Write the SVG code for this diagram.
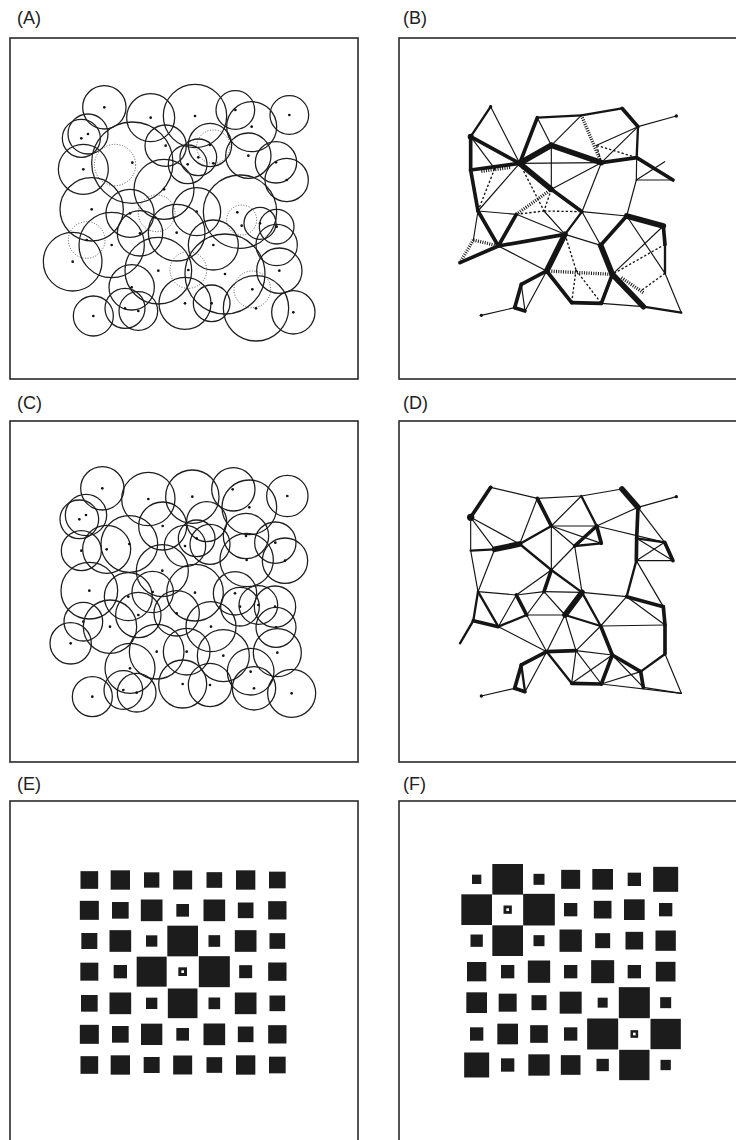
<svg xmlns="http://www.w3.org/2000/svg" width="736" height="1140" viewBox="0 0 736 1140">
<style>
.box{fill:none;stroke:#2a2a2a;stroke-width:1.6}
.lbl{font-family:"Liberation Sans",Arial,sans-serif;font-size:18px;fill:#222}
.c circle{fill:none;stroke:#1e1e1e;stroke-width:3.8}
.c circle.d{stroke:#555;stroke-width:3;stroke-dasharray:3 5}
.c circle.p{fill:#111;stroke:none}
.m line{stroke:#151515;stroke-linecap:round}
.e1{stroke-width:3.5}
.e2{stroke-width:7}
.e3{stroke-width:11}
.e4{stroke-width:17}
.h{stroke-width:10;stroke-dasharray:3 4;stroke-linecap:butt!important}
.dt{stroke-width:4;stroke-dasharray:7 6;stroke-linecap:butt!important}
.sq rect{fill:#1c1c1c}
.sq rect.w{fill:#fff}
.nd{fill:#111}
</style>

<text class="lbl" x="17" y="24">(A)</text>
<text class="lbl" x="403" y="24">(B)</text>
<text class="lbl" x="17" y="409">(C)</text>
<text class="lbl" x="403" y="409">(D)</text>
<text class="lbl" x="17" y="790">(E)</text>
<text class="lbl" x="403" y="790">(F)</text>

<rect class="box" x="10" y="38" width="348" height="341"/>
<rect class="box" x="399" y="38" width="345" height="341"/>
<rect class="box" x="10" y="421" width="348" height="341"/>
<rect class="box" x="399" y="421" width="345" height="341"/>
<rect class="box" x="10" y="801" width="348" height="345"/>
<rect class="box" x="399" y="801" width="345" height="345"/>

<!-- Panel A -->
<g id="panelA" class="c" transform="scale(0.33333)">
<circle cx="313" cy="322" r="65"/><circle class="p" cx="313" cy="322" r="4"/>
<circle cx="452" cy="353" r="72"/><circle class="p" cx="452" cy="353" r="4"/>
<circle cx="585" cy="348" r="95"/><circle class="p" cx="585" cy="348" r="4"/>
<circle cx="706" cy="330" r="58"/><circle class="p" cx="706" cy="330" r="4"/>
<circle cx="755" cy="380" r="75"/><circle class="p" cx="755" cy="380" r="4"/>
<circle cx="868" cy="345" r="58"/><circle class="p" cx="868" cy="345" r="4"/>
<circle cx="264" cy="402" r="60"/><circle class="p" cx="264" cy="402" r="4"/>
<circle cx="244" cy="415" r="57"/><circle class="p" cx="244" cy="415" r="4"/>
<circle cx="250" cy="508" r="75"/><circle class="p" cx="250" cy="508" r="4"/>
<circle cx="397" cy="488" r="122"/><circle class="p" cx="397" cy="488" r="4"/>
<circle class="d" cx="345" cy="495" r="62"/>
<circle cx="497" cy="437" r="62"/><circle class="p" cx="497" cy="437" r="4"/>
<circle cx="630" cy="435" r="65"/><circle class="p" cx="630" cy="435" r="4"/>
<circle class="d" cx="640" cy="440" r="50"/><circle class="p" cx="640" cy="490" r="4"/>
<circle cx="595" cy="472" r="55"/><circle class="p" cx="595" cy="472" r="4"/>
<circle cx="563" cy="493" r="58"/><circle class="p" cx="563" cy="493" r="4"/>
<circle cx="745" cy="467" r="68"/><circle class="p" cx="745" cy="467" r="4"/>
<circle cx="828" cy="487" r="62"/><circle class="p" cx="828" cy="487" r="4"/>
<circle cx="860" cy="540" r="65"/><circle class="p" cx="860" cy="540" r="4"/>
<circle cx="492" cy="568" r="90"/><circle class="p" cx="492" cy="568" r="4"/>
<circle cx="275" cy="628" r="95"/><circle class="p" cx="275" cy="628" r="4"/>
<circle cx="390" cy="640" r="72"/><circle class="p" cx="390" cy="640" r="4"/>
<circle class="d" cx="470" cy="640" r="55"/>
<circle cx="590" cy="635" r="72"/><circle class="p" cx="590" cy="635" r="4"/>
<circle cx="720" cy="635" r="110"/><circle class="p" cx="712" cy="637" r="4"/>
<circle class="d" cx="725" cy="660" r="45"/><circle class="p" cx="725" cy="677" r="4"/>
<circle cx="780" cy="670" r="48"/><circle class="p" cx="780" cy="670" r="4"/>
<circle cx="830" cy="680" r="52"/><circle class="p" cx="830" cy="680" r="4"/>
<circle cx="530" cy="698" r="85"/><circle class="p" cx="530" cy="698" r="4"/>
<circle cx="420" cy="700" r="68"/><circle class="p" cx="420" cy="700" r="4"/>
<circle cx="335" cy="735" r="98"/><circle class="p" cx="335" cy="735" r="4"/>
<circle class="d" cx="260" cy="720" r="55"/><circle class="p" cx="260" cy="720" r="4"/>
<circle cx="218" cy="785" r="88"/><circle class="p" cx="218" cy="785" r="4"/>
<circle cx="640" cy="735" r="75"/><circle class="p" cx="640" cy="735" r="4"/>
<circle cx="830" cy="735" r="62"/><circle class="p" cx="838" cy="812" r="4"/>
<circle cx="475" cy="812" r="100"/><circle class="p" cx="475" cy="812" r="4"/>
<circle class="d" cx="565" cy="810" r="55"/><circle class="p" cx="565" cy="810" r="4"/>
<circle cx="675" cy="822" r="120"/><circle class="p" cx="675" cy="822" r="4"/>
<circle cx="838" cy="812" r="68"/>
<circle cx="395" cy="862" r="68"/><circle class="p" cx="395" cy="862" r="4"/>
<circle cx="555" cy="910" r="78"/><circle class="p" cx="555" cy="910" r="4"/>
<circle cx="635" cy="910" r="55"/><circle class="p" cx="635" cy="910" r="4"/>
<circle class="d" cx="757" cy="868" r="55"/><circle class="p" cx="757" cy="868" r="4"/>
<circle cx="768" cy="925" r="98"/><circle class="p" cx="768" cy="925" r="4"/>
<circle cx="880" cy="937" r="65"/><circle class="p" cx="880" cy="937" r="4"/>
<circle cx="280" cy="948" r="60"/><circle class="p" cx="280" cy="948" r="4"/>
<circle cx="375" cy="925" r="60"/><circle class="p" cx="375" cy="925" r="4"/>
<circle cx="415" cy="933" r="58"/><circle class="p" cx="415" cy="933" r="4"/>
</g>

<!-- Panel C -->
<g id="panelC" class="c" transform="translate(0,390) scale(0.33333)">
<circle cx="307" cy="295" r="65"/><circle class="p" cx="307" cy="295" r="4"/>
<circle cx="445" cy="327" r="80"/><circle class="p" cx="445" cy="327" r="4"/>
<circle cx="577" cy="320" r="80"/><circle class="p" cx="577" cy="320" r="4"/>
<circle cx="700" cy="298" r="65"/><circle class="p" cx="698" cy="298" r="4"/>
<circle cx="748" cy="352" r="82"/><circle class="p" cx="748" cy="352" r="4"/>
<circle cx="862" cy="318" r="62"/><circle class="p" cx="862" cy="318" r="4"/>
<circle cx="258" cy="375" r="62"/><circle class="p" cx="258" cy="375" r="4"/>
<circle cx="238" cy="388" r="58"/><circle class="p" cx="238" cy="388" r="4"/>
<circle cx="244" cy="482" r="60"/><circle class="p" cx="244" cy="482" r="4"/>
<circle cx="320" cy="478" r="72"/><circle class="p" cx="320" cy="478" r="4"/>
<circle cx="388" cy="462" r="85"/><circle class="p" cx="388" cy="462" r="4"/>
<circle cx="488" cy="408" r="72"/><circle class="p" cx="488" cy="408" r="4"/>
<circle cx="620" cy="395" r="60"/>
<circle cx="555" cy="468" r="62"/><circle class="p" cx="555" cy="468" r="4"/>
<circle cx="590" cy="445" r="55"/><circle class="p" cx="590" cy="445" r="4"/>
<circle cx="630" cy="463" r="60"/>
<circle cx="738" cy="438" r="68"/><circle class="p" cx="738" cy="438" r="4"/>
<circle cx="826" cy="458" r="62"/><circle class="p" cx="826" cy="458" r="4"/>
<circle cx="855" cy="512" r="68"/><circle class="p" cx="855" cy="512" r="4"/>
<circle cx="740" cy="510" r="80"/><circle class="p" cx="740" cy="510" r="4"/>
<circle cx="487" cy="542" r="78"/><circle class="p" cx="487" cy="542" r="4"/>
<circle cx="585" cy="608" r="85"/><circle class="p" cx="585" cy="608" r="4"/>
<circle cx="268" cy="602" r="85"/><circle class="p" cx="268" cy="602" r="4"/>
<circle cx="385" cy="620" r="72"/><circle class="p" cx="385" cy="620" r="4"/>
<circle cx="458" cy="606" r="62"/><circle class="p" cx="458" cy="606" r="4"/>
<circle cx="415" cy="675" r="68"/><circle class="p" cx="415" cy="675" r="4"/>
<circle cx="530" cy="670" r="68"/><circle class="p" cx="530" cy="670" r="4"/>
<circle cx="705" cy="610" r="65"/><circle class="p" cx="705" cy="610" r="4"/>
<circle cx="720" cy="650" r="58"/><circle class="p" cx="720" cy="650" r="4"/>
<circle cx="775" cy="645" r="58"/><circle class="p" cx="775" cy="645" r="4"/>
<circle cx="825" cy="650" r="62"/><circle class="p" cx="825" cy="650" r="4"/>
<circle cx="828" cy="712" r="60"/><circle class="p" cx="828" cy="712" r="4"/>
<circle cx="250" cy="695" r="58"/><circle class="p" cx="250" cy="695" r="4"/>
<circle cx="330" cy="710" r="80"/><circle class="p" cx="330" cy="710" r="4"/>
<circle cx="633" cy="710" r="75"/><circle class="p" cx="633" cy="710" r="4"/>
<circle cx="212" cy="760" r="62"/><circle class="p" cx="212" cy="760" r="4"/>
<circle cx="470" cy="785" r="82"/><circle class="p" cx="470" cy="785" r="4"/>
<circle cx="560" cy="785" r="70"/><circle class="p" cx="560" cy="785" r="4"/>
<circle cx="670" cy="797" r="78"/><circle class="p" cx="670" cy="797" r="4"/>
<circle cx="832" cy="788" r="72"/><circle class="p" cx="832" cy="788" r="4"/>
<circle cx="390" cy="835" r="75"/><circle class="p" cx="390" cy="835" r="4"/>
<circle cx="548" cy="882" r="72"/><circle class="p" cx="548" cy="882" r="4"/>
<circle cx="630" cy="885" r="65"/><circle class="p" cx="630" cy="885" r="4"/>
<circle cx="752" cy="845" r="70"/><circle class="p" cx="752" cy="845" r="4"/>
<circle cx="762" cy="895" r="65"/><circle class="p" cx="762" cy="895" r="4"/>
<circle cx="875" cy="910" r="72"/><circle class="p" cx="875" cy="910" r="4"/>
<circle cx="277" cy="920" r="60"/><circle class="p" cx="277" cy="920" r="4"/>
<circle cx="370" cy="900" r="58"/><circle class="p" cx="370" cy="900" r="4"/>
<circle cx="410" cy="908" r="58"/><circle class="p" cx="410" cy="908" r="4"/>
</g>

<!-- Panel B -->
<g id="panelB" class="m" transform="translate(368,9.33) scale(0.33333)">
<line class="e2" x1="368" y1="292" x2="308" y2="382"/>
<line class="e1" x1="368" y1="292" x2="455" y2="462"/>
<line class="e3" x1="308" y1="382" x2="308" y2="482"/>
<line class="e3" x1="308" y1="382" x2="455" y2="462"/>
<line class="e1" x1="308" y1="382" x2="380" y2="478"/>
<line class="e3" x1="308" y1="482" x2="455" y2="462"/>
<line class="h" x1="340" y1="486" x2="430" y2="474"/>
<line class="e3" x1="308" y1="482" x2="330" y2="605"/>
<line class="dt" x1="380" y1="478" x2="330" y2="605"/>
<line class="e3" x1="455" y1="462" x2="508" y2="325"/>
<line class="e2" x1="508" y1="325" x2="640" y2="318"/>
<line class="e2" x1="640" y1="318" x2="762" y2="297"/>
<line class="e3" x1="762" y1="297" x2="810" y2="352"/>
<line class="e1" x1="810" y1="352" x2="925" y2="320"/>
<line class="e1" x1="508" y1="325" x2="550" y2="408"/>
<line class="e1" x1="640" y1="318" x2="550" y2="408"/>
<line class="e4" x1="455" y1="462" x2="550" y2="408"/>
<line class="e4" x1="550" y1="408" x2="700" y2="460"/>
<line class="e1" x1="455" y1="462" x2="700" y2="460"/>
<line class="h" x1="640" y1="318" x2="700" y2="460"/>
<line class="e3" x1="700" y1="460" x2="806" y2="445"/>
<line class="e3" x1="806" y1="445" x2="915" y2="512"/>
<line class="e2" x1="810" y1="352" x2="806" y2="445"/>
<line class="e1" x1="810" y1="352" x2="700" y2="460"/>
<line class="e1" x1="810" y1="352" x2="686" y2="408"/>
<line class="dt" x1="686" y1="408" x2="700" y2="460"/>
<line class="dt" x1="686" y1="408" x2="806" y2="445"/>
<line class="e1" x1="806" y1="445" x2="805" y2="512"/>
<line class="e1" x1="890" y1="457" x2="805" y2="512"/>
<line class="e1" x1="915" y1="512" x2="805" y2="512"/>
<line class="e1" x1="805" y1="512" x2="776" y2="620"/>
<line class="e4" x1="455" y1="462" x2="550" y2="540"/>
<line class="e1" x1="550" y1="408" x2="550" y2="540"/>
<line class="e1" x1="700" y1="460" x2="550" y2="540"/>
<line class="e1" x1="700" y1="460" x2="642" y2="607"/>
<line class="e3" x1="550" y1="540" x2="642" y2="607"/>
<line class="h" x1="550" y1="540" x2="445" y2="615"/>
<line class="dt" x1="550" y1="540" x2="528" y2="605"/>
<line class="dt" x1="455" y1="462" x2="528" y2="605"/>
<line class="e1" x1="455" y1="462" x2="330" y2="605"/>
<line class="e1" x1="330" y1="605" x2="445" y2="615"/>
<line class="dt" x1="445" y1="615" x2="528" y2="605"/>
<line class="dt" x1="528" y1="605" x2="642" y2="607"/>
<line class="e3" x1="445" y1="615" x2="391" y2="710"/>
<line class="e3" x1="330" y1="605" x2="391" y2="710"/>
<line class="h" x1="316" y1="692" x2="276" y2="760"/>
<line class="e1" x1="330" y1="605" x2="316" y2="692"/>
<line class="h" x1="316" y1="692" x2="391" y2="710"/>
<line class="e3" x1="391" y1="710" x2="276" y2="760"/>
<line class="e3" x1="391" y1="710" x2="591" y2="675"/>
<line class="e1" x1="445" y1="615" x2="591" y2="675"/>
<line class="e1" x1="528" y1="605" x2="591" y2="675"/>
<line class="e2" x1="642" y1="607" x2="591" y2="675"/>
<line class="e1" x1="642" y1="607" x2="776" y2="620"/>
<line class="e4" x1="776" y1="620" x2="886" y2="650"/>
<line class="e3" x1="886" y1="650" x2="891" y2="705"/>
<line class="e2" x1="891" y1="705" x2="891" y2="792"/>
<line class="e3" x1="776" y1="620" x2="698" y2="708"/>
<line class="e1" x1="591" y1="675" x2="698" y2="708"/>
<line class="e1" x1="642" y1="607" x2="698" y2="708"/>
<line class="e4" x1="698" y1="708" x2="733" y2="795"/>
<line class="e4" x1="591" y1="675" x2="536" y2="785"/>
<line class="e1" x1="391" y1="710" x2="536" y2="785"/>
<line class="h" x1="536" y1="785" x2="733" y2="795"/>
<line class="dt" x1="591" y1="675" x2="624" y2="782"/>
<line class="dt" x1="624" y1="782" x2="611" y2="880"/>
<line class="e3" x1="536" y1="785" x2="611" y2="880"/>
<line class="dt" x1="624" y1="782" x2="700" y2="882"/>
<line class="e3" x1="611" y1="880" x2="700" y2="882"/>
<line class="e3" x1="733" y1="795" x2="700" y2="882"/>
<line class="e4" x1="733" y1="795" x2="826" y2="892"/>
<line class="h" x1="760" y1="805" x2="826" y2="850"/>
<line class="dt" x1="891" y1="792" x2="818" y2="845"/>
<line class="e1" x1="776" y1="620" x2="891" y2="792"/>
<line class="e1" x1="886" y1="650" x2="733" y2="795"/>
<line class="dt" x1="891" y1="705" x2="733" y2="795"/>
<line class="e1" x1="891" y1="792" x2="940" y2="910"/>
<line class="e2" x1="826" y1="892" x2="940" y2="910"/>
<line class="e1" x1="700" y1="882" x2="826" y2="892"/>
<line class="e3" x1="536" y1="785" x2="460" y2="825"/>
<line class="e3" x1="460" y1="825" x2="440" y2="895"/>
<line class="e3" x1="440" y1="895" x2="471" y2="905"/>
<line class="e1" x1="460" y1="825" x2="471" y2="905"/>
<line class="e1" x1="440" y1="895" x2="340" y2="918"/>
<line class="e1" x1="536" y1="785" x2="471" y2="905"/>
<circle class="nd" cx="368" cy="292" r="5"/>
<circle class="nd" cx="925" cy="320" r="5"/>
<circle class="nd" cx="340" cy="918" r="5"/>
<circle class="nd" cx="308" cy="382" r="9"/>
</g>

<!-- Panel D -->
<g id="panelD" class="m" transform="translate(368,390) scale(0.33333)">
<line class="e3" x1="368" y1="292" x2="308" y2="382"/>
<line class="e1" x1="368" y1="292" x2="508" y2="325"/>
<line class="e1" x1="508" y1="325" x2="640" y2="318"/>
<line class="e1" x1="640" y1="318" x2="762" y2="297"/>
<line class="e4" x1="762" y1="297" x2="810" y2="352"/>
<line class="e1" x1="810" y1="352" x2="925" y2="320"/>
<line class="e1" x1="308" y1="382" x2="308" y2="482"/>
<line class="e1" x1="308" y1="382" x2="380" y2="478"/>
<line class="e1" x1="308" y1="382" x2="455" y2="462"/>
<line class="e2" x1="308" y1="482" x2="380" y2="478"/>
<line class="e4" x1="380" y1="478" x2="455" y2="462"/>
<line class="e1" x1="308" y1="482" x2="330" y2="605"/>
<line class="e1" x1="380" y1="478" x2="330" y2="605"/>
<line class="e1" x1="508" y1="325" x2="455" y2="462"/>
<line class="e3" x1="508" y1="325" x2="550" y2="408"/>
<line class="e2" x1="455" y1="462" x2="550" y2="408"/>
<line class="e1" x1="640" y1="318" x2="550" y2="408"/>
<line class="e2" x1="640" y1="318" x2="686" y2="408"/>
<line class="e1" x1="550" y1="408" x2="686" y2="408"/>
<line class="e1" x1="550" y1="408" x2="620" y2="468"/>
<line class="e1" x1="550" y1="408" x2="700" y2="460"/>
<line class="e3" x1="686" y1="408" x2="700" y2="460"/>
<line class="e3" x1="620" y1="468" x2="686" y2="408"/>
<line class="e2" x1="620" y1="468" x2="700" y2="460"/>
<line class="e1" x1="810" y1="352" x2="686" y2="408"/>
<line class="e1" x1="686" y1="408" x2="890" y2="457"/>
<line class="e3" x1="810" y1="352" x2="806" y2="445"/>
<line class="e3" x1="806" y1="445" x2="805" y2="512"/>
<line class="e1" x1="810" y1="352" x2="890" y2="457"/>
<line class="e2" x1="806" y1="445" x2="890" y2="457"/>
<line class="e3" x1="890" y1="457" x2="915" y2="512"/>
<line class="e1" x1="806" y1="445" x2="915" y2="512"/>
<line class="e1" x1="805" y1="512" x2="890" y2="457"/>
<line class="e1" x1="805" y1="512" x2="915" y2="512"/>
<line class="e1" x1="620" y1="468" x2="550" y2="540"/>
<line class="e2" x1="455" y1="462" x2="550" y2="540"/>
<line class="e1" x1="550" y1="408" x2="550" y2="540"/>
<line class="e3" x1="550" y1="540" x2="528" y2="605"/>
<line class="e1" x1="550" y1="540" x2="445" y2="615"/>
<line class="e2" x1="550" y1="540" x2="642" y2="607"/>
<line class="e1" x1="620" y1="468" x2="642" y2="607"/>
<line class="e2" x1="805" y1="512" x2="776" y2="620"/>
<line class="e1" x1="805" y1="512" x2="886" y2="650"/>
<line class="e1" x1="330" y1="605" x2="445" y2="615"/>
<line class="e1" x1="445" y1="615" x2="528" y2="605"/>
<line class="e1" x1="528" y1="605" x2="642" y2="607"/>
<line class="e1" x1="642" y1="607" x2="776" y2="620"/>
<line class="e3" x1="776" y1="620" x2="886" y2="650"/>
<line class="e3" x1="886" y1="650" x2="891" y2="705"/>
<line class="e3" x1="891" y1="705" x2="891" y2="792"/>
<line class="e1" x1="776" y1="620" x2="891" y2="705"/>
<line class="e2" x1="330" y1="605" x2="316" y2="692"/>
<line class="e2" x1="330" y1="605" x2="391" y2="710"/>
<line class="e1" x1="445" y1="615" x2="391" y2="710"/>
<line class="e3" x1="445" y1="615" x2="476" y2="675"/>
<line class="e3" x1="316" y1="692" x2="391" y2="710"/>
<line class="e2" x1="316" y1="692" x2="276" y2="760"/>
<line class="e2" x1="391" y1="710" x2="476" y2="675"/>
<line class="e1" x1="528" y1="605" x2="476" y2="675"/>
<line class="e1" x1="528" y1="605" x2="591" y2="675"/>
<line class="e4" x1="642" y1="607" x2="591" y2="675"/>
<line class="e1" x1="476" y1="675" x2="591" y2="675"/>
<line class="e2" x1="642" y1="607" x2="698" y2="708"/>
<line class="e2" x1="591" y1="675" x2="698" y2="708"/>
<line class="e1" x1="776" y1="620" x2="698" y2="708"/>
<line class="e1" x1="698" y1="708" x2="891" y2="705"/>
<line class="e1" x1="391" y1="710" x2="536" y2="785"/>
<line class="e1" x1="476" y1="675" x2="536" y2="785"/>
<line class="e1" x1="591" y1="675" x2="536" y2="785"/>
<line class="e1" x1="591" y1="675" x2="624" y2="782"/>
<line class="e3" x1="536" y1="785" x2="624" y2="782"/>
<line class="e3" x1="698" y1="708" x2="733" y2="795"/>
<line class="e1" x1="624" y1="782" x2="733" y2="795"/>
<line class="e1" x1="698" y1="708" x2="624" y2="782"/>
<line class="e3" x1="536" y1="785" x2="460" y2="825"/>
<line class="e3" x1="460" y1="825" x2="440" y2="895"/>
<line class="e3" x1="440" y1="895" x2="471" y2="905"/>
<line class="e2" x1="460" y1="825" x2="471" y2="905"/>
<line class="e1" x1="536" y1="785" x2="471" y2="905"/>
<line class="e1" x1="440" y1="895" x2="340" y2="918"/>
<line class="e2" x1="536" y1="785" x2="611" y2="880"/>
<line class="e1" x1="624" y1="782" x2="611" y2="880"/>
<line class="e1" x1="624" y1="782" x2="700" y2="882"/>
<line class="e3" x1="611" y1="880" x2="700" y2="882"/>
<line class="e3" x1="733" y1="795" x2="700" y2="882"/>
<line class="e3" x1="733" y1="795" x2="818" y2="845"/>
<line class="e3" x1="818" y1="845" x2="826" y2="892"/>
<line class="e2" x1="891" y1="792" x2="818" y2="845"/>
<line class="e1" x1="891" y1="792" x2="940" y2="910"/>
<line class="e1" x1="700" y1="882" x2="940" y2="910"/>
<line class="e1" x1="826" y1="892" x2="940" y2="910"/>
<line class="e1" x1="733" y1="795" x2="826" y2="892"/>
<line class="e1" x1="700" y1="882" x2="818" y2="845"/>
<line class="e1" x1="611" y1="880" x2="733" y2="795"/>
<circle class="nd" cx="368" cy="292" r="5"/>
<circle class="nd" cx="925" cy="320" r="5"/>
<circle class="nd" cx="340" cy="918" r="5"/>
<circle class="nd" cx="308" cy="382" r="11"/>
</g>

<!-- Panel E -->
<g id="panelE" class="sq" transform="translate(0,770) scale(0.33333)">
<rect x="241.5" y="303.5" width="53" height="53"/><rect x="332" y="301" width="58" height="58"/><rect x="432" y="307" width="46" height="46"/><rect x="519.5" y="301.5" width="57" height="57"/><rect x="619.5" y="306.5" width="47" height="47"/><rect x="708" y="301" width="58" height="58"/><rect x="807" y="305" width="50" height="50"/>
<rect x="239.5" y="392.5" width="57" height="57"/><rect x="336" y="396" width="50" height="50"/><rect x="422.5" y="388.5" width="65" height="65"/><rect x="529" y="402" width="38" height="38"/><rect x="610.5" y="388.5" width="65" height="65"/><rect x="713.5" y="397.5" width="47" height="47"/><rect x="804.5" y="393.5" width="55" height="55"/>
<rect x="244" y="489" width="48" height="48"/><rect x="328.5" y="480.5" width="65" height="65"/><rect x="438" y="496" width="34" height="34"/><rect x="502" y="467" width="92" height="92"/><rect x="625.5" y="495.5" width="35" height="35"/><rect x="704.5" y="480.5" width="65" height="65"/><rect x="808.5" y="489.5" width="47" height="47"/>
<rect x="241" y="578" width="54" height="54"/><rect x="341" y="585" width="40" height="40"/><rect x="410" y="560" width="90" height="90"/><rect x="535" y="592" width="26" height="26"/><rect class="w" x="544" y="601" width="8" height="8"/><rect x="596.5" y="558.5" width="93" height="93"/><rect x="717.5" y="585.5" width="39" height="39"/><rect x="804.5" y="577.5" width="55" height="55"/>
<rect x="243" y="675" width="50" height="50"/><rect x="328.5" y="667.5" width="65" height="65"/><rect x="438" y="683" width="34" height="34"/><rect x="503.5" y="655.5" width="89" height="89"/><rect x="625.5" y="682.5" width="35" height="35"/><rect x="704.5" y="667.5" width="65" height="65"/><rect x="808.5" y="676.5" width="47" height="47"/>
<rect x="239.5" y="764.5" width="57" height="57"/><rect x="336" y="768" width="50" height="50"/><rect x="423" y="761" width="64" height="64"/><rect x="529" y="774" width="38" height="38"/><rect x="610.5" y="760.5" width="65" height="65"/><rect x="713.5" y="769.5" width="47" height="47"/><rect x="804.5" y="765.5" width="55" height="55"/>
<rect x="241.5" y="858.5" width="53" height="53"/><rect x="332" y="856" width="58" height="58"/><rect x="431" y="861" width="48" height="48"/><rect x="519.5" y="856.5" width="57" height="57"/><rect x="619.5" y="861.5" width="47" height="47"/><rect x="708" y="856" width="58" height="58"/><rect x="807" y="860" width="50" height="50"/>
</g>

<!-- Panel F -->
<g id="panelF" class="sq" transform="translate(368,770) scale(0.33333)">
<rect x="312" y="314" width="28" height="28"/><rect x="373" y="282" width="92" height="92"/><rect x="496.5" y="311.5" width="33" height="33"/><rect x="579.5" y="299.5" width="57" height="57"/><rect x="673" y="297" width="62" height="62"/><rect x="779" y="308" width="40" height="40"/><rect x="855.5" y="290.5" width="75" height="75"/>
<rect x="280" y="373" width="92" height="92"/><rect x="406.5" y="406.5" width="25" height="25"/><rect class="w" x="415" y="415" width="8" height="8"/><rect x="465.5" y="371.5" width="95" height="95"/><rect x="588" y="399" width="40" height="40"/><rect x="677.5" y="392.5" width="53" height="53"/><rect x="768" y="388" width="62" height="62"/><rect x="873" y="399" width="40" height="40"/>
<rect x="307.5" y="493.5" width="37" height="37"/><rect x="373" y="466" width="92" height="92"/><rect x="496.5" y="495.5" width="33" height="33"/><rect x="574.5" y="478.5" width="67" height="67"/><rect x="681.5" y="489.5" width="45" height="45"/><rect x="772.5" y="485.5" width="53" height="53"/><rect x="862.5" y="481.5" width="61" height="61"/>
<rect x="297" y="576" width="58" height="58"/><rect x="399" y="585" width="40" height="40"/><rect x="479.5" y="571.5" width="67" height="67"/><rect x="588" y="585" width="40" height="40"/><rect x="669.5" y="570.5" width="69" height="69"/><rect x="779" y="585" width="40" height="40"/><rect x="863.5" y="575.5" width="59" height="59"/>
<rect x="295" y="667" width="62" height="62"/><rect x="392" y="671" width="54" height="54"/><rect x="490.5" y="675.5" width="45" height="45"/><rect x="575" y="665" width="66" height="66"/><rect x="689" y="683" width="30" height="30"/><rect x="752.5" y="651.5" width="93" height="93"/><rect x="876.5" y="681.5" width="33" height="33"/>
<rect x="306" y="772" width="40" height="40"/><rect x="388" y="761" width="62" height="62"/><rect x="486.5" y="765.5" width="53" height="53"/><rect x="588" y="772" width="40" height="40"/><rect x="657.5" y="745.5" width="93" height="93"/><rect x="787.5" y="780.5" width="23" height="23"/><rect class="w" x="795" y="788" width="8" height="8"/><rect x="847.5" y="746.5" width="91" height="91"/>
<rect x="288.5" y="847.5" width="75" height="75"/><rect x="399" y="865" width="40" height="40"/><rect x="481" y="853" width="64" height="64"/><rect x="578.5" y="855.5" width="59" height="59"/><rect x="685.5" y="866.5" width="37" height="37"/><rect x="753.5" y="839.5" width="91" height="91"/><rect x="877.5" y="869.5" width="31" height="31"/>
</g>
</svg>
